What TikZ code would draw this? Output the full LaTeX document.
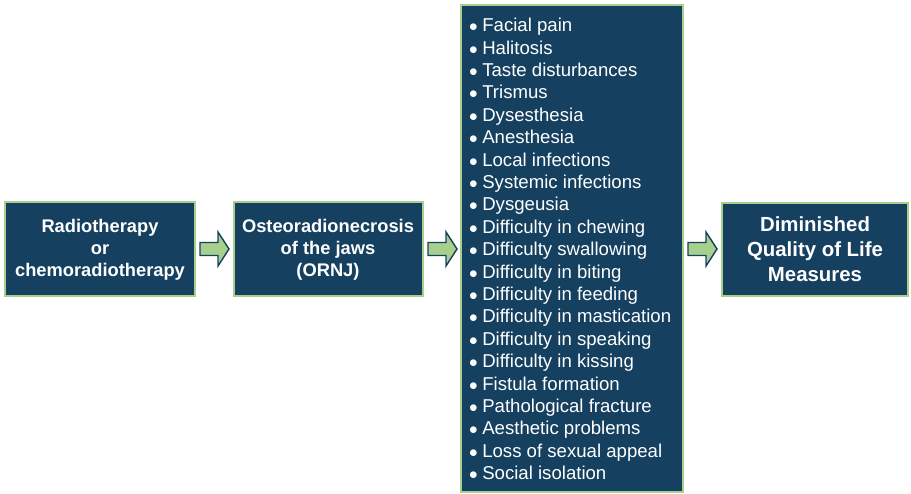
\documentclass[tikz,border=0pt]{standalone}
\usepackage{fontspec}
\setmainfont{Liberation Sans}
\definecolor{boxblue}{HTML}{15405F}
\definecolor{boxgreen}{HTML}{A8D08D}
\newcommand{\bul}{{\fontsize{17}{17}\selectfont$\bullet$}\hspace{-0.7pt}\ }
\begin{document}
\begin{tikzpicture}[x=1pt,y=-1pt,
  box/.style={draw=boxgreen,line width=2pt,fill=boxblue,inner sep=0pt},
  boxtext/.style={text=white,font=\fontsize{18.3}{22}\selectfont\bfseries,align=center},
  listtext/.style={text=white,font=\fontsize{18.6}{22.4}\selectfont,align=left,anchor=north west,inner sep=0pt},
  barrow/.style={fill=boxgreen,draw=boxblue,line width=1.4pt,line join=miter}]
\useasboundingbox (0,0) rectangle (911,494);
\node[box,minimum width=190pt,minimum height=94pt] (b1) at (100,249.5) {};
\node[boxtext] (t1) at (b1.center) {Radiotherapy\\or\\chemoradiotherapy};
\node[box,minimum width=189pt,minimum height=94pt] (b2) at (328,249.5) {};
\node[boxtext] (t2) at (b2.center) {Osteoradionecrosis\\of the jaws\\(ORNJ)};
\node[box,minimum width=222pt,minimum height=487pt] (b3) at (572,248.5) {};
\node[listtext] (t3) at (469,18) {%
\bul Facial pain\\
\bul Halitosis\\
\bul Taste disturbances\\
\bul Trismus\\
\bul Dysesthesia\\
\bul Anesthesia\\
\bul Local infections\\
\bul Systemic infections\\
\bul Dysgeusia\\
\bul Difficulty in chewing\\
\bul Difficulty swallowing\\
\bul Difficulty in biting\\
\bul Difficulty in feeding\\
\bul Difficulty in mastication\\
\bul Difficulty in speaking\\
\bul Difficulty in kissing\\
\bul Fistula formation\\
\bul Pathological fracture\\
\bul Aesthetic problems\\
\bul Loss of sexual appeal\\
\bul Social isolation};
\node[box,minimum width=186pt,minimum height=93pt] (b4) at (815,249.5) {};
\node[boxtext,font=\fontsize{20.4}{25}\selectfont\bfseries] (t4) at (b4.center) {Diminished\\Quality of Life\\Measures};
\foreach \x in {200,428,688}{
  \draw[barrow] (\x,242.5) -- (\x+18,242.5) -- (\x+18,232) -- (\x+29,249) -- (\x+18,266) -- (\x+18,255.5) -- (\x,255.5) -- cycle;
}
\end{tikzpicture}
\end{document}
